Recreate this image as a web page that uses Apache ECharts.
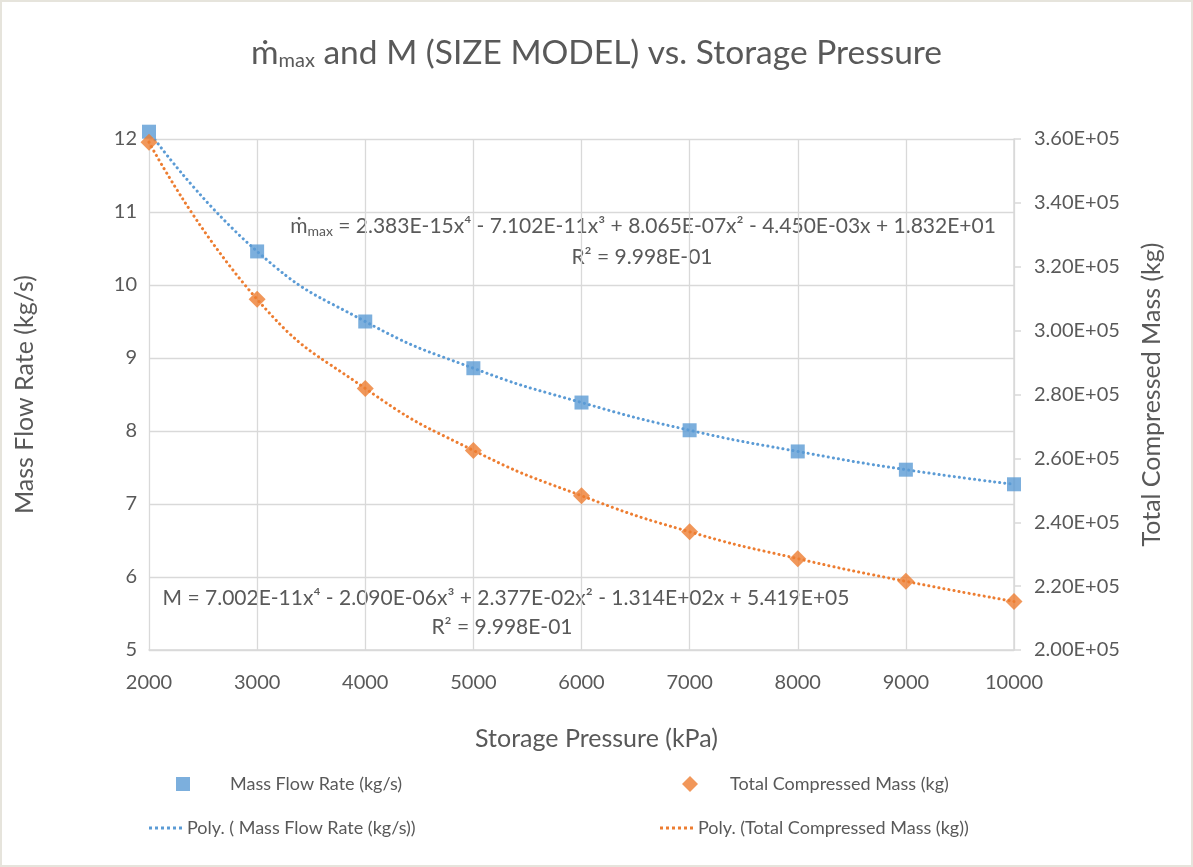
<!DOCTYPE html>
<html>
<head>
<meta charset="utf-8">
<script src="https://cdn.jsdelivr.net/npm/echarts@6/dist/echarts.min.js"></script>
<style>
html,body{margin:0;padding:0;background:#fff;}
#chart{width:1189px;height:863px;border:2px solid #e6e4dc;}
</style>
</head>
<body>
<div id="chart"></div>
<script>
const pressures = [2000, 3000, 4000, 5000, 6000, 7000, 8000, 9000, 10000];
const massFlowRate = [12.1, 10.46, 9.50, 8.86, 8.39, 8.01, 7.72, 7.47, 7.27];
const totalMass = [359000, 309800, 281900, 262500, 248300, 237000, 228600, 221500, 215200];
const leftTicks = {min: 5, max: 12, interval: 1};
const rightTicks = {min: 200000, max: 360000, interval: 20000};
const xTicks = {min: 2000, max: 10000, interval: 1000};

const FONT = 'Lato';
const GREY = '#595959';
const BLUE = '#5b9bd5';
const ORANGE = '#ed7d31';

const flowPts = pressures.map((p, i) => [p, massFlowRate[i]]);
const massPts = pressures.map((p, i) => [p, totalMass[i]]);

const chart = echarts.init(document.getElementById('chart'), null, {renderer: 'canvas'});
const dotted = {type: [0.1, 5], cap: 'round', width: 3};
const dotIcon = 'path://M0,0h3v3h-3z M6,0h3v3h-3z M12,0h3v3h-3z M18,0h3v3h-3z M24,0h3v3h-3z M30,0h3v3h-3z';

chart.setOption({
  animation: false,
  textStyle: {fontFamily: FONT},
  title: {
    text: '{m|ṁ}{sub|max}{m| and M (SIZE MODEL) vs. Storage Pressure}',
    left: 'center', top: 28,
    textStyle: {
      fontWeight: 'normal',
      rich: {
        m: {fontFamily: FONT, fontSize: 33.5, fontWeight: 'normal', color: GREY},
        sub: {fontFamily: FONT, fontSize: 20, fontWeight: 'normal', color: GREY, padding: [16, 0, 0, 0]}
      }
    }
  },
  grid: {left: 147, right: 177, top: 137, bottom: 215},
  xAxis: {
    type: 'value', min: xTicks.min, max: xTicks.max, interval: xTicks.interval,
    name: 'Storage Pressure (kPa)', nameLocation: 'middle', nameGap: 76,
    nameTextStyle: {fontFamily: FONT, fontSize: 25, color: GREY, padding: [0, 0, 0, 30]},
    axisLine: {show: true, lineStyle: {color: '#d9d9d9', width: 1.5}},
    axisTick: {show: false},
    axisLabel: {fontFamily: FONT, fontSize: 20, color: GREY, margin: 23, formatter: v => String(v)},
    splitLine: {show: true, lineStyle: {color: '#d9d9d9', width: 1.3}}
  },
  yAxis: [{
    type: 'value', min: leftTicks.min, max: leftTicks.max, interval: leftTicks.interval,
    name: 'Mass Flow Rate (kg/s)', nameLocation: 'middle', nameGap: 112, nameRotate: 90,
    nameTextStyle: {fontFamily: FONT, fontSize: 25, color: GREY},
    axisLine: {show: false}, axisTick: {show: false},
    axisLabel: {fontFamily: FONT, fontSize: 20, color: GREY, margin: 12},
    splitLine: {show: true, lineStyle: {color: '#d9d9d9', width: 1.3}}
  }, {
    type: 'value', position: 'right', min: rightTicks.min, max: rightTicks.max, interval: rightTicks.interval,
    name: 'Total Compressed Mass (kg)', nameLocation: 'middle', nameGap: 125, nameRotate: 90,
    nameTextStyle: {fontFamily: FONT, fontSize: 25, color: GREY},
    axisLine: {show: true, lineStyle: {color: '#d9d9d9', width: 1.5}},
    axisTick: {show: true, inside: false, length: 7, lineStyle: {color: '#d9d9d9', width: 1.5}},
    axisLabel: {fontFamily: FONT, fontSize: 20, color: GREY, margin: 20,
      formatter: v => (v / 1e5).toFixed(2) + 'E+05'},
    splitLine: {show: false}
  }],
  legend: [
    {data: ['Mass Flow Rate (kg/s)'], left: 169, top: 768, itemWidth: 14, itemHeight: 14,
      textStyle: {fontFamily: FONT, fontSize: 18, color: GREY, padding: [0, 0, 0, 35]}},
    {data: ['Total Compressed Mass (kg)'], left: 675, top: 768, itemWidth: 16, itemHeight: 16,
      textStyle: {fontFamily: FONT, fontSize: 18, color: GREY, padding: [0, 0, 0, 27]}},
    {data: [{name: 'Poly. ( Mass Flow Rate (kg/s))', icon: dotIcon}], left: 142, top: 812,
      itemWidth: 33, itemHeight: 3,
      textStyle: {fontFamily: FONT, fontSize: 18, color: GREY}},
    {data: [{name: 'Poly. (Total Compressed Mass (kg))', icon: dotIcon}], left: 653, top: 812,
      itemWidth: 33, itemHeight: 3,
      textStyle: {fontFamily: FONT, fontSize: 18, color: GREY}}
  ],
  series: [
    {name: 'Poly. ( Mass Flow Rate (kg/s))', type: 'line', yAxisIndex: 0, data: flowPts,
      smooth: 0.5, symbol: 'none', lineStyle: Object.assign({color: BLUE}, dotted),
      itemStyle: {color: BLUE}, z: 2},
    {name: 'Poly. (Total Compressed Mass (kg))', type: 'line', yAxisIndex: 1, data: massPts,
      smooth: 0.5, symbol: 'none', lineStyle: Object.assign({color: ORANGE}, dotted),
      itemStyle: {color: ORANGE}, z: 2},
    {name: 'Mass Flow Rate (kg/s)', type: 'scatter', yAxisIndex: 0, data: flowPts,
      symbol: 'rect', symbolSize: 14, itemStyle: {color: BLUE}, clip: false, z: 3},
    {name: 'Total Compressed Mass (kg)', type: 'scatter', yAxisIndex: 1, data: massPts,
      symbol: 'diamond', symbolSize: 17, itemStyle: {color: ORANGE}, clip: false, z: 3}
  ],
  graphic: [
    {type: 'text', x: 641, y: 224, style: {
      text: '{m|ṁ}{s|max}{m| = 2.383E-15x⁴ - 7.102E-11x³ + 8.065E-07x² - 4.450E-03x + 1.832E+01}',
      align: 'center', verticalAlign: 'middle', fill: GREY,
      rich: {m: {fontFamily: FONT, fontSize: 21, fill: GREY},
             s: {fontFamily: FONT, fontSize: 14, fill: GREY, padding: [10, 0, 0, 0]}}
    }},
    {type: 'text', x: 640, y: 255, style: {
      text: 'R² = 9.998E-01', align: 'center', verticalAlign: 'middle',
      fontFamily: FONT, fontSize: 21, fill: GREY}},
    {type: 'text', x: 504, y: 596, style: {
      text: 'M = 7.002E-11x⁴ - 2.090E-06x³ + 2.377E-02x² - 1.314E+02x + 5.419E+05',
      align: 'center', verticalAlign: 'middle',
      fontFamily: FONT, fontSize: 21, fill: GREY}},
    {type: 'text', x: 500, y: 625, style: {
      text: 'R² = 9.998E-01', align: 'center', verticalAlign: 'middle',
      fontFamily: FONT, fontSize: 21, fill: GREY}}
  ]
});
</script>
</body>
</html>
